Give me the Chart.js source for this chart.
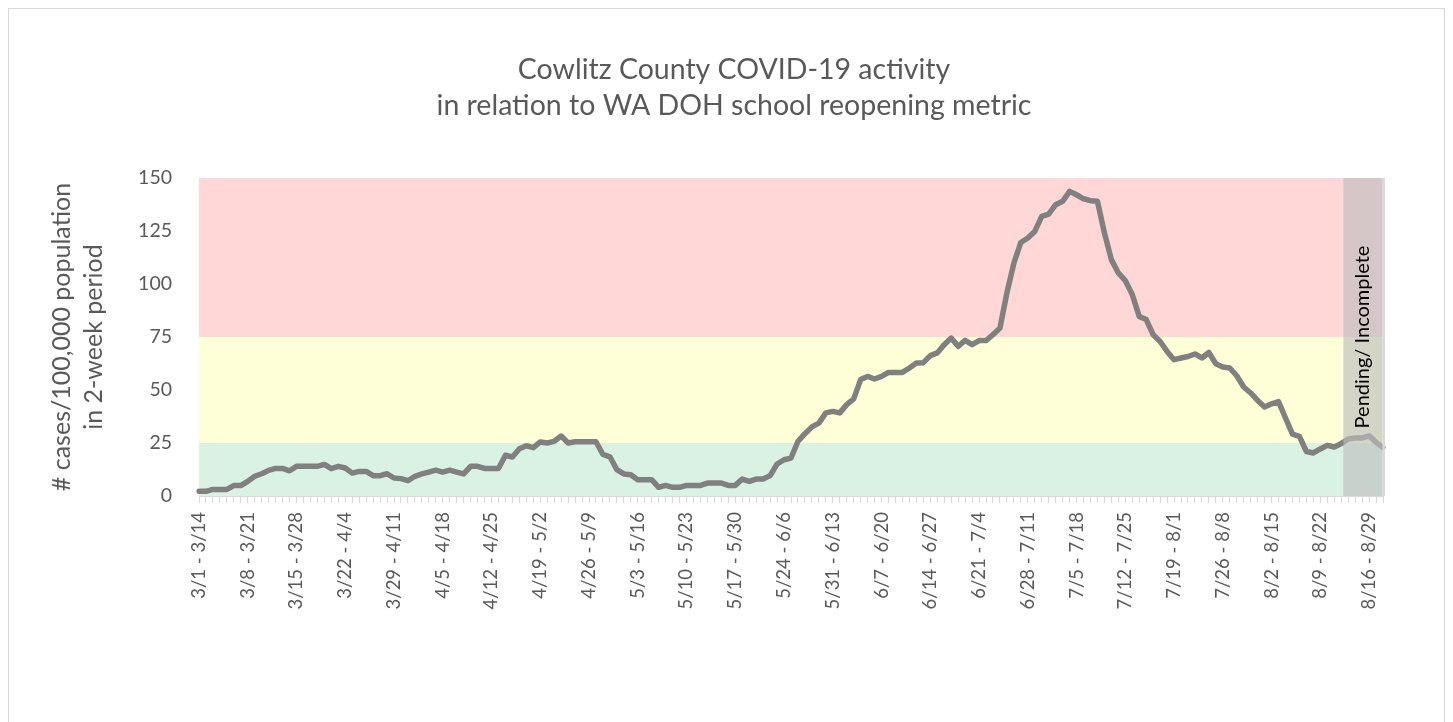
<!DOCTYPE html>
<html>
<head>
<meta charset="utf-8">
<script src="https://cdn.jsdelivr.net/npm/chart.js@4"></script>
<style>
  body { margin: 0; background: #fff; }
  canvas { display: block; }
</style>
</head>
<body>
<canvas id="covid-chart" width="1453" height="722"></canvas>
<script>
// 2-week rolling windows, one per start day from 3/1 to 8/18
const firstStart = Date.UTC(2020, 2, 1);
const windowCount = 171;
const labels = [];
for (let i = 0; i < windowCount; i++) {
  const s = new Date(firstStart + i * 86400000);
  const e = new Date(firstStart + (i + 13) * 86400000);
  labels.push(`${s.getUTCMonth() + 1}/${s.getUTCDate()} - ${e.getUTCMonth() + 1}/${e.getUTCDate()}`);
}

// cases per 100,000 over 2 weeks
const casesPer100k = [
  2.2, 2.2, 3.1, 3.1, 3.1, 4.9, 4.9, 6.9, 9.3, 10.5,
  12.1, 13.0, 13.0, 11.9, 14.0, 14.0, 14.0, 14.0, 14.9, 12.9,
  14.0, 13.2, 10.8, 11.6, 11.6, 9.6, 9.6, 10.5, 8.5, 8.2,
  7.2, 9.3, 10.4, 11.3, 12.2, 11.3, 12.2, 11.3, 10.4, 14.0,
  14.0, 13.0, 13.0, 13.0, 19.2, 18.4, 22.3, 23.7, 22.8, 25.5,
  25.0, 25.8, 28.3, 25.0, 25.6, 25.6, 25.6, 25.6, 19.6, 18.5,
  12.4, 10.4, 10.0, 7.7, 7.7, 7.7, 4.1, 5.0, 4.1, 4.1,
  5.0, 5.0, 5.0, 6.1, 6.1, 6.1, 5.0, 5.0, 8.0, 6.9,
  8.0, 8.0, 9.6, 15.1, 17.1, 17.9, 25.8, 29.4, 32.6, 34.4,
  39.2, 39.9, 39.2, 43.1, 45.8, 54.9, 56.4, 55.2, 56.4, 58.3,
  58.3, 58.3, 60.4, 62.7, 62.9, 66.2, 67.5, 71.4, 74.5, 70.6,
  73.4, 71.4, 73.3, 73.3, 76.1, 79.2, 95.8, 109.9, 119.6, 121.7,
  124.8, 131.9, 133.0, 137.4, 139.0, 143.7, 142.1, 140.2, 139.3, 139.0,
  124.1, 111.5, 105.2, 101.6, 95.0, 84.7, 83.2, 76.1, 72.9, 68.2,
  64.3, 65.1, 65.8, 67.0, 65.1, 67.7, 62.4, 60.8, 60.4, 56.7,
  51.4, 48.6, 45.1, 42.0, 43.5, 44.5, 36.8, 29.2, 28.1, 21.0,
  20.3, 22.2, 23.9, 23.1, 24.7, 26.9, 27.4, 27.4, 28.4, 25.3,
  22.9
];

// school reopening metric bands: [from, to, colour]
const bandLimits = [0, 25, 75, 150];
const bandColors = ['#d9f2e4', '#ffffd7', '#ffd7d7'];

// pending / incomplete window (category index range)
const pendingRange = [164.3, 169.9];
const pendingText = 'Pending/ Incomplete';

const textColor = '#595959';
const fontFamily = 'Lato, Carlito, "Open Sans", sans-serif';

const backdrop = {
  id: 'backdrop',
  beforeDraw(chart) {
    const { ctx, chartArea, scales } = chart;
    ctx.save();
    ctx.fillStyle = '#fff';
    ctx.fillRect(0, 0, chart.width, chart.height);
    ctx.strokeStyle = '#d9d9d9';
    ctx.lineWidth = 1;
    ctx.strokeRect(8.5, 8.5, 1436, 716);
    for (let b = 0; b < bandColors.length; b++) {
      const yTop = scales.y.getPixelForValue(bandLimits[b + 1]);
      const yBot = scales.y.getPixelForValue(bandLimits[b]);
      ctx.fillStyle = bandColors[b];
      ctx.fillRect(chartArea.left, yTop, chartArea.right - chartArea.left, yBot - yTop);
    }
    ctx.restore();
  },
  afterDatasetsDraw(chart) {
    const { ctx, chartArea, scales } = chart;
    const x0 = scales.x.getPixelForValue(pendingRange[0]);
    const x1 = scales.x.getPixelForValue(pendingRange[1]);
    ctx.save();
    ctx.fillStyle = 'rgba(191,191,191,0.65)';
    ctx.fillRect(x0, chartArea.top, x1 - x0, chartArea.bottom - chartArea.top);
    ctx.fillStyle = '#d9d9d9';
    ctx.fillRect(x1, chartArea.top, chartArea.right + 2 - x1, chartArea.bottom - chartArea.top);
    ctx.translate((x0 + x1) / 2, scales.y.getPixelForValue(75));
    ctx.rotate(-Math.PI / 2);
    ctx.fillStyle = '#000';
    ctx.font = `20px ${fontFamily}`;
    ctx.textAlign = 'center';
    ctx.textBaseline = 'middle';
    ctx.fillText(pendingText, 0, 0);
    ctx.restore();
  }
};

const config = {
  type: 'line',
  data: {
    labels: labels,
    datasets: [
      {
        label: 'Cowlitz County',
        data: casesPer100k,
        borderColor: '#808080',
        borderWidth: 5.5,
        borderJoinStyle: 'round',
        borderCapStyle: 'round',
        pointRadius: 0,
        tension: 0,
        fill: false,
      },
    ],
  },
  options: {
    responsive: false,
    animation: false,
    devicePixelRatio: 1,
    layout: { padding: { left: 15, right: 0, top: 0, bottom: 0 } },
    plugins: {
      legend: { display: false },
      tooltip: { enabled: false },
      title: {
        display: true,
        text: ['Cowlitz County COVID-19 activity', 'in relation to WA DOH school reopening metric'],
        color: textColor,
        font: { family: fontFamily, size: 28.5, weight: 'normal', lineHeight: 36 / 28.5 },
        padding: { top: 52, bottom: 54 },
      },
    },
    scales: {
      x: {
        offset: false,
        border: { display: true, color: '#d9d9d9', width: 1 },
        grid: { display: true, drawOnChartArea: false, drawTicks: true, tickLength: 7, color: '#d9d9d9' },
        ticks: {
          autoSkip: false,
          minRotation: 90,
          maxRotation: 90,
          padding: 9,
          color: textColor,
          font: { family: fontFamily, size: 18.5 },
          callback: (val, idx) => (idx % 7 === 0 ? labels[idx] : ''),
        },
        afterFit: (scale) => { scale.height = 226; },
      },
      y: {
        min: 0,
        max: 150,
        border: { display: false },
        grid: { display: false, drawTicks: false },
        ticks: {
          stepSize: 25,
          padding: 27,
          color: textColor,
          font: { family: fontFamily, size: 19.5 },
        },
        title: {
          display: true,
          text: ['# cases/100,000 population', 'in 2-week period'],
          color: textColor,
          font: { family: fontFamily, size: 25, lineHeight: 32 / 25 },
          padding: { top: 31, bottom: 0 },
        },
        afterFit: (scale) => { scale.width = 184; },
      },
      // empty axis that only keeps the right margin
      yRight: {
        type: 'linear',
        position: 'right',
        min: 0,
        max: 150,
        border: { display: false },
        grid: { display: false, drawTicks: false },
        ticks: { display: false },
        afterFit: (scale) => { scale.width = 70; },
      },
    },
  },
  plugins: [backdrop],
};

const myChart = new Chart(document.getElementById('covid-chart'), config);
</script>
</body>
</html>
